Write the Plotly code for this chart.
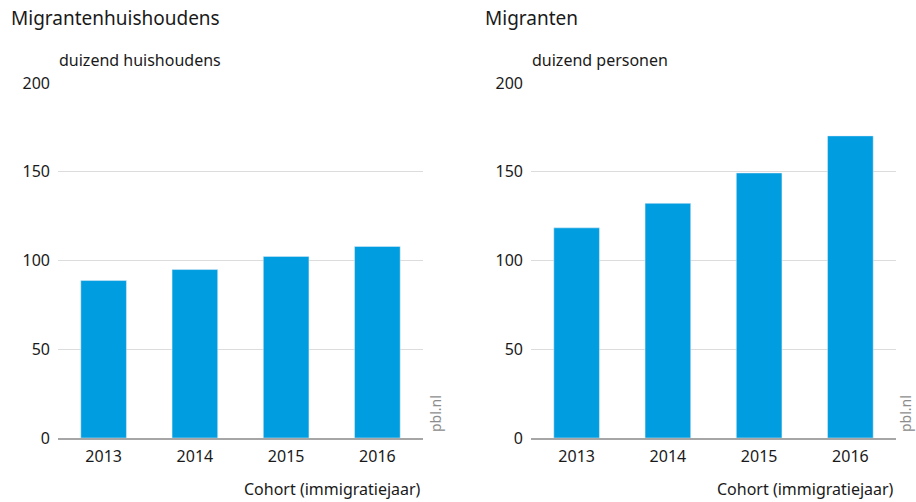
import plotly.graph_objects as go

years = ["2013", "2014", "2015", "2016"]
households = [88.7, 94.9, 102.3, 107.9]
migrants = [118.4, 132.2, 149.3, 170.2]
y_ticks = [0, 50, 100, 150, 200]

W, H = 916, 502
FONT = "Noto Sans"
BLUE = "#009de0"
TXT = "#1a1a1a"

def px(x):
    return x / W

def py(y):
    return 1 - y / H

fig = go.Figure()
fig.add_trace(go.Bar(x=years, y=households, marker_color=BLUE, width=0.5,
                     xaxis="x", yaxis="y", showlegend=False, hoverinfo="x+y"))
fig.add_trace(go.Bar(x=years, y=migrants, marker_color=BLUE, width=0.5,
                     xaxis="x2", yaxis="y2", showlegend=False, hoverinfo="x+y"))

ydom = [py(438), py(83)]
xcommon = dict(showgrid=False, showline=True, linecolor="#a6a6a6", linewidth=1.5,
               ticks="", tickfont=dict(family=FONT, size=16, color=TXT),
               ticklabelstandoff=3,
               range=[-0.5, 3.5], fixedrange=True, type="category")
ycommon = dict(range=[0, 200], tickvals=y_ticks, showgrid=True, gridcolor="#dcdcdc",
               gridwidth=1, zeroline=False, showline=False, ticks="",
               tickfont=dict(family=FONT, size=16, color=TXT), ticklabelstandoff=7,
               fixedrange=True, domain=ydom, automargin=False)

fig.update_layout(
    width=W, height=H,
    margin=dict(l=0, r=0, t=0, b=0, autoexpand=False),
    paper_bgcolor="white", plot_bgcolor="white",
    bargap=0.5,
    xaxis=dict(domain=[px(58), px(423)], anchor="y", automargin=False, **xcommon),
    yaxis=dict(anchor="x", **ycommon),
    xaxis2=dict(domain=[px(531), px(896)], anchor="y2", automargin=False, **xcommon),
    yaxis2=dict(anchor="x2", **ycommon),
    font=dict(family=FONT, color=TXT),
)

ann = []
def text(x, y, s, size, xanchor="left", color=TXT, angle=0, yanchor="middle"):
    ann.append(dict(x=px(x), y=py(y), xref="paper", yref="paper", text=s, showarrow=False,
                    xanchor=xanchor, yanchor=yanchor, textangle=angle,
                    font=dict(family=FONT, size=size, color=color)))

text(9, 18, "Migrantenhuishoudens", 19)
text(483, 18, "Migranten", 19)
text(57, 60, "duizend huishoudens", 16)
text(530, 60, "duizend personen", 16)
text(423, 489, "Cohort (immigratiejaar)", 16, xanchor="right")
text(896, 489, "Cohort (immigratiejaar)", 16, xanchor="right")
text(435, 414, "pbl.nl", 14, xanchor="center", color="#8c8c8c", angle=-90)
text(905, 414, "pbl.nl", 14, xanchor="center", color="#8c8c8c", angle=-90)

fig.update_layout(annotations=ann)
fig.write_html(
    "out.html",
    config={"displayModeBar": False, "staticPlot": False},
    post_script="document.body.style.margin='0';document.body.style.padding='0';"
                "document.documentElement.style.overflow='hidden';",
)
